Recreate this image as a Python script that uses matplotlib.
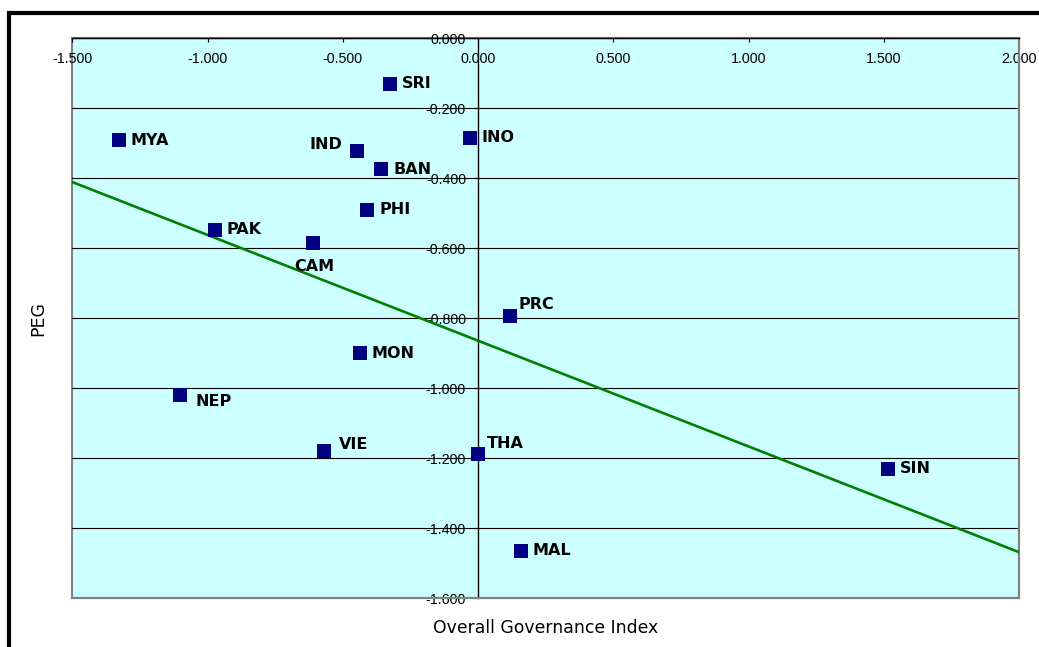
import matplotlib
matplotlib.use("Agg")
import matplotlib.pyplot as plt
from matplotlib.patches import Rectangle
from matplotlib.ticker import MultipleLocator, FuncFormatter

# values
countries = ["SRI", "MYA", "IND", "INO", "BAN", "PHI", "PAK", "CAM",
             "PRC", "MON", "NEP", "VIE", "THA", "SIN", "MAL"]
governance = [-0.327, -1.328, -0.446, -0.030, -0.358, -0.409, -0.973, -0.611,
              0.117, -0.437, -1.100, -0.570, -0.001, 1.517, 0.158]
peg = [-0.130, -0.292, -0.322, -0.284, -0.374, -0.490, -0.547, -0.584,
       -0.794, -0.901, -1.021, -1.181, -1.189, -1.230, -1.465]

# linear trendline end points (as drawn in the reference)
trend_x = [-1.5, 2.0]
trend_y = [-0.411, -1.469]

# label placement in pixels relative to the marker: (dx, dy, ha)
label_offsets = {
    "IND": (-14.7, 6, "right"),
    "CAM": (1.4, -24, "center"),
    "PRC": (8.4, 12, "left"),
    "THA": (9.4, 11, "left"),
    "NEP": (14.7, -6, "left"),
    "VIE": (14.7, 6.7, "left"),
}

W, H = 1039, 647
fig = plt.figure(figsize=(W / 100, H / 100), dpi=100)
fig.patch.set_facecolor("white")

# chart frame (only left and top edges fall inside the picture)
frame = Rectangle((9 / W, -0.1), 1.2, 1.1 - 13 / H, fill=False,
                  edgecolor="black", linewidth=3, transform=fig.transFigure)
fig.add_artist(frame)

ax = fig.add_axes([72.3 / W, 1 - 598 / H, (1019 - 72.3) / W, (598 - 38.3) / H])
ax.set_facecolor("#CCFFFF")
ax.patch.set_edgecolor("#808080")
ax.patch.set_linewidth(1.5)

ax.set_xlim(-1.5, 2.0)
ax.set_ylim(-1.6, 0.0)
ax.xaxis.set_major_locator(MultipleLocator(0.5))
ax.yaxis.set_major_locator(MultipleLocator(0.2))
fmt = FuncFormatter(lambda v, p: f"{round(v, 3) + 0.0:.3f}")
ax.xaxis.set_major_formatter(fmt)
ax.yaxis.set_major_formatter(fmt)

ax.spines["left"].set_position(("data", 0))
ax.spines["left"].set_color("black")
ax.spines["left"].set_linewidth(1.0)
ax.spines["top"].set_color("black")
ax.spines["top"].set_linewidth(1.0)
for s in ("bottom", "right"):
    ax.spines[s].set_color("#808080")
    ax.spines[s].set_linewidth(1.5)

ax.xaxis.set_ticks_position("top")
ax.yaxis.set_ticks_position("left")
ax.tick_params(axis="x", direction="in", length=3, width=0.8, pad=-19.7,
               labelsize=10.3, labelfontfamily="Liberation Sans")
ax.tick_params(axis="y", direction="out", length=3.6, width=0.8, pad=5,
               labelsize=10.3, labelfontfamily="Liberation Sans")

ax.yaxis.grid(True, color="black", linewidth=0.8)
ax.set_axisbelow(True)

ax.plot(trend_x, trend_y, color="#008000", linewidth=1.9, zorder=2.6)
ax.plot(governance, peg, "s", color="#000080", markersize=10,
        markeredgewidth=0, zorder=3)

for name, x, y in zip(countries, governance, peg):
    dx, dy, ha = label_offsets.get(name, (12, 0, "left"))
    ax.annotate(name, (x, y), xytext=(dx * 0.72, dy * 0.72),
                textcoords="offset points", ha=ha, va="center",
                fontsize=11.5, fontweight="bold", zorder=4)

ax.set_xlabel("Overall Governance Index", fontsize=12.4, labelpad=14.8)
fig.text(38.5 / W, 1 - 318 / H, "PEG", rotation=90, ha="center", va="center",
         fontsize=12.5)

fig.savefig("out.png", dpi=100)
